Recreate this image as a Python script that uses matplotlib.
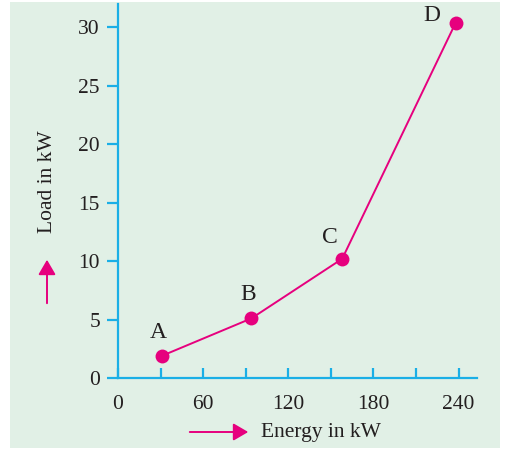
import matplotlib
matplotlib.use('Agg')
import matplotlib.pyplot as plt
from matplotlib.patches import Rectangle, FancyArrowPatch

# data
energy = [31, 94, 158, 238]
load = [1.9, 5.1, 10.2, 30.4]
point_names = ['A', 'B', 'C', 'D']
x_major = [0, 60, 120, 180, 240]
x_minor = [30, 90, 150, 210]
y_ticks = [0, 5, 10, 15, 20, 25, 30]

MAGENTA = '#E6007E'
AXCOL = '#1AAFE6'
BG = '#E1F0E6'
TXT = '#231F20'

plt.rcParams['font.family'] = ['Liberation Serif', 'DejaVu Serif']

fig = plt.figure(figsize=(5.06, 4.5), dpi=100)
fig.patch.set_facecolor('white')
fig.add_artist(Rectangle((10 / 506, 2 / 450), 490 / 506, 446 / 450,
                         transform=fig.transFigure, facecolor=BG,
                         edgecolor='none', zorder=-5))

ax = fig.add_axes([118 / 506, 1 - 378 / 450, (477 - 118) / 506, (378 - 4) / 450])
ax.set_facecolor('none')
ax.set_zorder(2)
ax.set_xlim(0, 253)
ax.set_ylim(0, 32)

ax.plot(energy, load, color=MAGENTA, lw=1.4, marker='o', ms=10,
        markeredgewidth=0, clip_on=False, zorder=3)

offsets = {'A': (-3, 17), 'B': (-2, 17), 'C': (-9, 15), 'D': (-17, 5)}
for x, y, name in zip(energy, load, point_names):
    dx, dy = offsets[name]
    ax.annotate(name, (x, y), xytext=(dx, dy), textcoords='offset points',
                ha='center', va='center', fontsize=17, color=TXT)

for side in ['top', 'right']:
    ax.spines[side].set_visible(False)
for side in ['left', 'bottom']:
    ax.spines[side].set_color(AXCOL)
    ax.spines[side].set_linewidth(1.6)

ax.set_xticks(x_major)
ax.set_xticks(x_minor, minor=True)
ax.set_yticks(y_ticks)
ax.tick_params(axis='x', which='both', direction='in', length=7, width=1.6,
               color=AXCOL, labelsize=15.5, labelcolor=TXT, pad=12)
ax.tick_params(axis='y', direction='out', length=8, width=1.6,
               color=AXCOL, labelsize=15.5, labelcolor=TXT, pad=5)

# axis titles with arrows
fig.text(47 / 506, 1 - 182 / 450, 'Load in kW', rotation=90, ha='center',
         va='center', fontsize=15.5, color=TXT)
fig.text(321 / 506, 1 - 432 / 450, 'Energy in kW', ha='center',
         va='center', fontsize=15.5, color=TXT)
fig.add_artist(FancyArrowPatch(
    (47 / 506, 1 - 306 / 450), (47 / 506, 1 - 257 / 450),
    transform=fig.transFigure, arrowstyle='-|>,head_length=6,head_width=3.5',
    color=MAGENTA, lw=1.4, mutation_scale=1.5))
fig.add_artist(FancyArrowPatch(
    (187 / 506, 1 - 432 / 450), (251 / 506, 1 - 432 / 450),
    transform=fig.transFigure, arrowstyle='-|>,head_length=6,head_width=3.5',
    color=MAGENTA, lw=1.4, mutation_scale=1.5))

fig.savefig('out.png', dpi=100, facecolor='white')
